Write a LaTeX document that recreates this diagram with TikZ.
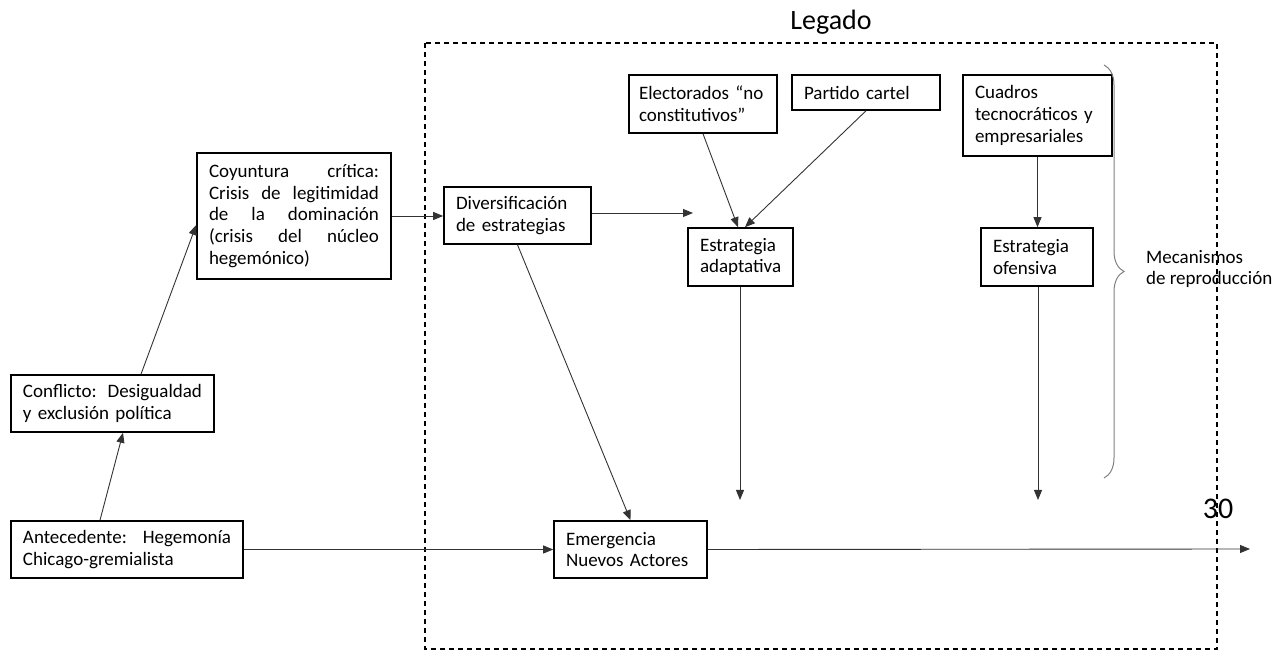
\documentclass[tikz,border=0pt]{standalone}
\usepackage{fontspec}
\setmainfont{Carlito}
\usepackage{tikz}
\usetikzlibrary{arrows.meta,decorations.pathreplacing}

\tikzset{
  caja/.style={draw, line width=0.8pt, align=left, inner xsep=6pt, inner ysep=2pt,
    font=\fontsize{9.5}{10.9}\selectfont},
  flecha/.style={-{Triangle[length=5pt,width=4pt]}, line width=0.45pt, color=black!80},
}

\begin{document}
\begin{tikzpicture}[x=0.5pt,y=-0.5pt]
        \useasboundingbox (0,0) rectangle (1281,651);

        \draw[dashed, dash pattern=on 2.5pt off 2pt, line width=0.6pt] (425,43) rectangle (1217,649);
        \node(Leg) at (831,22) {\fontsize{14}{16}\selectfont Legado};
        \node(Num) at (1218,509) {\fontsize{15}{17}\selectfont 30};

        \node[caja, text width=85pt, minimum height=63pt](Coy) at (294,216)
          {Coyuntura\hfill crítica:\\ Crisis\hfill de\hfill legitimidad\\ de\hfill la\hfill dominación\\ (crisis\hfill del\hfill núcleo\\ hegemónico)};
        \node[caja, text width=89.5pt, minimum height=28.5pt](Conf) at (112.5,403.5)
          {Conflicto:\hfill Desigualdad\\ y exclusión política};
        \node[caja, text width=104pt, minimum height=28.5pt](Ante) at (127,549.5)
          {Antecedente:\hfill Hegemonía\\ Chicago-gremialista};
        \node[caja, text width=61.5pt, minimum height=28.5pt](Div) at (517.5,215.5)
          {Diversificación\\ de estrategias};
        \node[caja, inner xsep=5pt, text width=64pt, minimum height=29pt](Elec) at (703,104)
          {\mbox{Electorados “no}\\ constitutivos”};
        \node[caja, text width=62pt, minimum height=17.5pt](Part) at (866,92.5)
          {Partido cartel};
        \node[caja, text width=62.5pt, minimum height=40.5pt](Cuad) at (1037.5,115.5)
          {Cuadros\\ tecnocráticos y\\ empresariales};
        \node[caja, text width=40.5pt, minimum height=29pt](Adap) at (740.5,257)
          {Estrategia\\ adaptativa};
        \node[caja, text width=44pt, minimum height=29pt](Ofen) at (1037,257)
          {Estrategia\\ ofensiva};
        \node[caja, text width=64.5pt, minimum height=28.5pt](Emer) at (630.5,549.5)
          {Emergencia\\ Nuevos Actores};

        % free arrow ends
        \coordinate(DivF) at (693,213);
        \coordinate(AdapF) at (740,500);
        \coordinate(OfenF) at (1038,500);
        \coordinate(EmerF) at (1250,549);

        \path[flecha] ([xshift=-13.5pt]Ante.north) edge ([xshift=5.25pt]Conf.south)
                  ([xshift=14.25pt]Conf.north) edge ([yshift=-4.5pt]Coy.west)
                  (Coy.east) edge (Coy.east -| Div.west)
                  (Div.east |- DivF) edge (DivF)
                  (Elec.south) edge ([xshift=-1.25pt]Adap.north)
                  (Part.south) edge ([xshift=2.25pt]Adap.north)
                  (Cuad.south) edge (Cuad.south |- Ofen.north)
                  (Adap.south -| AdapF) edge (AdapF)
                  (Ofen.south -| OfenF) edge (OfenF)
                  (Div.south) edge (Emer.north)
                  (Ante.east) edge (Emer.west)
                  (Emer.east) edge (EmerF);

        % brace
        \coordinate(BrTop) at (1104,65);
        \coordinate(BrBot) at (1104,478);
        \draw[decorate, decoration={brace, amplitude=10pt}, draw=black!50, line width=0.5pt] (BrTop) -- (BrBot);
        \node[anchor=west, align=left, font=\fontsize{9.5}{10.9}\selectfont](Meca) at (1139,269)
          {Mecanismos\\ de reproducción};
\end{tikzpicture}
\end{document}
